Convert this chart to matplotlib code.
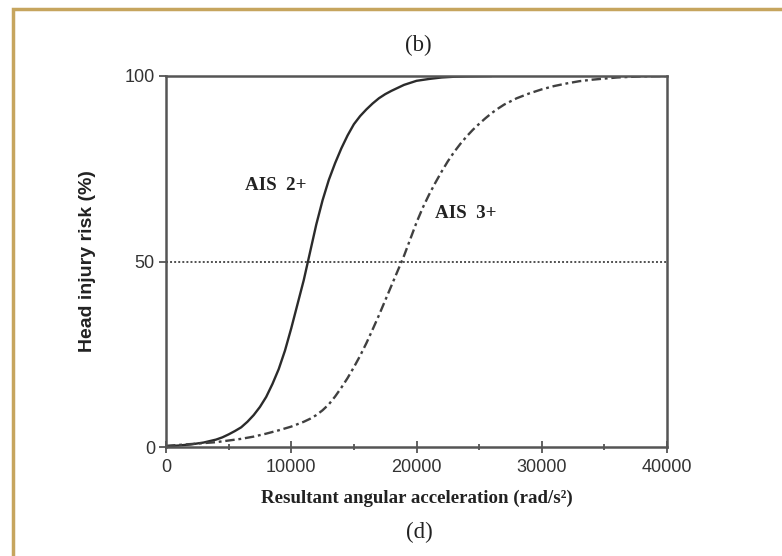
import matplotlib
matplotlib.use("Agg")
import matplotlib.pyplot as plt
from matplotlib.patches import Rectangle

# ---- data ----
ais2_x = [0, 1000, 2000, 3000, 4000, 4500, 5000, 5500, 6000, 6500, 7000, 7500,
          8000, 8500, 9000, 9500, 10000, 10500, 11000, 11500, 12000, 12500,
          13000, 13500, 14000, 14500, 15000, 15500, 16000, 16500, 17000, 17500,
          18000, 19000, 20000, 21000, 22000, 23000, 24000, 26000]
ais2_y = [0.2, 0.4, 0.7, 1.2, 2.0, 2.6, 3.4, 4.3, 5.3, 6.8, 8.6, 10.8,
          13.5, 17, 21, 26, 32, 38.5, 45, 52.5, 60, 66.5,
          72, 76.5, 80.5, 84, 87, 89.2, 91, 92.6, 94, 95.1,
          96, 97.6, 98.7, 99.2, 99.6, 99.8, 99.9, 100]

ais3_x = [0, 2000, 4000, 6000, 7000, 8000, 9000, 10000, 11000, 11500, 12000,
          12500, 13000, 13500, 14000, 14500, 15000, 15500, 16000, 16500, 17000,
          17500, 18000, 18500, 19000, 19500, 20000, 20500, 21000, 21500, 22000,
          22500, 23000, 23500, 24000, 24500, 25000, 25500, 26000, 26500, 27000,
          28000, 29000, 30000, 31000, 32000, 33000, 34000, 36000, 38000, 40000]
ais3_y = [0.3, 0.8, 1.3, 2.2, 2.8, 3.6, 4.5, 5.5, 6.8, 7.6, 8.6,
          9.9, 11.5, 13.6, 16, 18.6, 21.5, 24.6, 28, 31.7, 35.5,
          39.5, 43.5, 47.5, 51.5, 56, 60.5, 64.5, 68, 71.2, 74.2,
          77, 79.5, 81.7, 83.7, 85.5, 87.1, 88.6, 90, 91.2, 92.3,
          94, 95.3, 96.4, 97.3, 98, 98.6, 99, 99.6, 99.9, 100]

ref_x = [0, 40000]
ref_y = [50, 50]

x_ticks = [0, 10000, 20000, 30000, 40000]
x_minor = [5000, 15000, 25000, 35000]
y_ticks = [0, 50, 100]

# ---- figure ----
fig = plt.figure(figsize=(7.82, 5.56), dpi=100)
fig.patch.set_facecolor("white")

# golden frame (only top and left edges are visible in the reference)
fig.add_artist(Rectangle((12.5 / 782, -0.1), 1.2, 1.1 - 8.5 / 556,
                         transform=fig.transFigure, fill=False,
                         edgecolor="#C6A55E", linewidth=2.5))

ax = fig.add_axes([166 / 782, 1 - 447 / 556, 501 / 782, 371 / 556])

ax.plot(ref_x, ref_y, color="#505050", linewidth=1.4, linestyle=(0, (1, 1.1)))
ax.plot(ais2_x, ais2_y, color="#2b2b2b", linewidth=1.7, solid_capstyle="round",
        solid_joinstyle="round")
ax.plot(ais3_x, ais3_y, color="#404040", linewidth=1.7,
        linestyle=(0, (4, 1.6, 1.2, 1.6)))

ax.set_xlim(0, 40000)
ax.set_ylim(0, 100)

for s in ax.spines.values():
    s.set_linewidth(1.8)
    s.set_color("#555555")

ax.set_xticks(x_ticks)
ax.set_xticks(x_minor, minor=True)
ax.set_yticks(y_ticks)
ax.tick_params(axis="x", which="major", direction="inout", length=9, width=1.3,
               color="#555555", pad=4)
ax.tick_params(axis="x", which="minor", direction="inout", length=5, width=1.3,
               color="#555555")
ax.tick_params(axis="y", which="major", direction="out", length=5, width=1.3,
               color="#555555", pad=3)
for lab in ax.get_xticklabels() + ax.get_yticklabels():
    lab.set_fontfamily("Liberation Sans")
    lab.set_fontsize(13)
    lab.set_color("#333333")

ax.set_xlabel("Resultant angular acceleration (rad/s²)", fontfamily="Liberation Serif",
              fontweight="bold", fontsize=13.6, color="#222222", va="center")
ax.xaxis.set_label_coords(0.5, (447 - 498) / 371)
ax.set_ylabel("Head injury risk (%)", fontfamily="Liberation Sans",
              fontweight="bold", fontsize=14, color="#222222", va="center")
ax.yaxis.set_label_coords((88 - 166) / 501, 0.5)

ax.text((276 - 166) / 501 * 40000, (447 - 186) / 371 * 100, "AIS  2+",
        fontfamily="Liberation Serif", fontweight="bold", fontsize=13.7,
        color="#222222", ha="center", va="center")
ax.text((466 - 166) / 501 * 40000, (447 - 214) / 371 * 100, "AIS  3+",
        fontfamily="Liberation Serif", fontweight="bold", fontsize=13.7,
        color="#222222", ha="center", va="center")

fig.text(418 / 782, 1 - 45 / 556, "(b)", fontfamily="Liberation Serif",
         fontsize=16.5, color="#222222", ha="center", va="center")
fig.text(419 / 782, 1 - 532 / 556, "(d)", fontfamily="Liberation Serif",
         fontsize=16.5, color="#222222", ha="center", va="center")

fig.savefig("out.png", dpi=100, facecolor="white")
